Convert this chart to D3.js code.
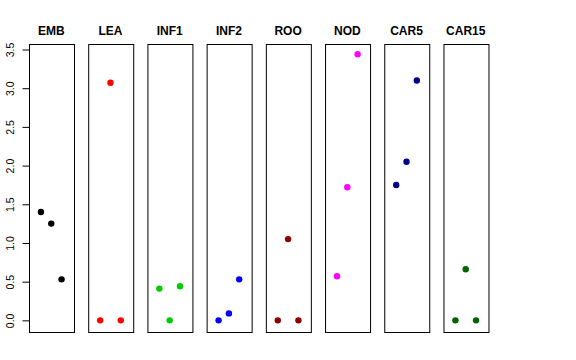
<!DOCTYPE html>
<html>
<head>
<meta charset="utf-8">
<script src="https://cdn.jsdelivr.net/npm/d3@7"></script>
<style>
  body { margin: 0; background: #fff; }
  svg { display: block; }
  text { font-family: "Liberation Sans", Arial, Helvetica, sans-serif; }
</style>
</head>
<body>
<svg id="chart" width="576" height="360"></svg>
<script>
// Categories (panels)
const categories = ["EMB", "LEA", "INF1", "INF2", "ROO", "NOD", "CAR5", "CAR15"];
// Replicate values per category
const rep1 = [1.40, 0.00, 0.41, 0.00, 0.00, 0.57, 1.75, 0.00];
const rep2 = [1.25, 3.07, 0.00, 0.09, 1.05, 1.72, 2.05, 0.66];
const rep3 = [0.53, 0.00, 0.44, 0.53, 0.00, 3.44, 3.10, 0.00];
const colors = ["#000000", "#FF0000", "#00CD00", "#0000FF", "#8B0000", "#FF00FF", "#00008B", "#006400"];
const yTicks = [0.0, 0.5, 1.0, 1.5, 2.0, 2.5, 3.0, 3.5];

const svg = d3.select("#chart");
const plotTop = 43.5, plotBottom = 331;

const panel = d3.scaleBand().domain(categories).range([29, 488]).paddingInner(0.248).paddingOuter(0);

const all = rep1.concat(rep2, rep3);
const yMin = d3.min(all), yMax = d3.max(all);
const pad = 0.04 * (yMax - yMin);
const y = d3.scaleLinear().domain([yMin - pad, yMax + pad]).range([plotBottom, plotTop]);

const reps = [rep1, rep2, rep3];
const xIn = d3.scaleLinear().domain([-0.16, 4.16]).range([0, panel.bandwidth()]);

categories.forEach((cat, i) => {
  const g = svg.append("g").attr("transform", `translate(${panel(cat)},0)`);
  g.append("rect")
    .attr("x", 0.5).attr("y", Math.round(plotTop) + 0.5)
    .attr("width", Math.round(panel.bandwidth()))
    .attr("height", Math.round(plotBottom - plotTop))
    .attr("fill", "none").attr("stroke", "#000").attr("stroke-width", 1);
  g.append("text")
    .attr("x", panel.bandwidth() / 2).attr("y", 35)
    .attr("text-anchor", "middle")
    .attr("font-weight", "bold").attr("font-size", "12px")
    .text(cat);
  reps.forEach((r, j) => {
    g.append("circle")
      .attr("cx", xIn(j + 1)).attr("cy", y(r[i]))
      .attr("r", 3.2).attr("fill", colors[i]);
  });
});

// Y axis
const axisX = Math.round(panel(categories[0])) + 0.5;
const ax = svg.append("g").attr("transform", `translate(${axisX},0)`);
const axis = d3.axisLeft(y).tickValues(yTicks).tickSize(7).tickFormat(d3.format(".1f"));
ax.call(axis);
ax.select(".domain").remove();
ax.append("line")
  .attr("x1", 0).attr("x2", 0)
  .attr("y1", y(yTicks[0])).attr("y2", y(yTicks[yTicks.length - 1]))
  .attr("stroke", "#000");
ax.selectAll(".tick line").attr("stroke", "#000");
ax.selectAll(".tick text")
  .attr("font-family", "Liberation Sans, Arial, sans-serif")
  .attr("font-size", "10.5px")
  .attr("fill", "#000")
  .attr("x", null).attr("dy", null)
  .attr("text-anchor", "middle")
  .attr("transform", "translate(-16,0) rotate(-90)");
</script>
</body>
</html>
